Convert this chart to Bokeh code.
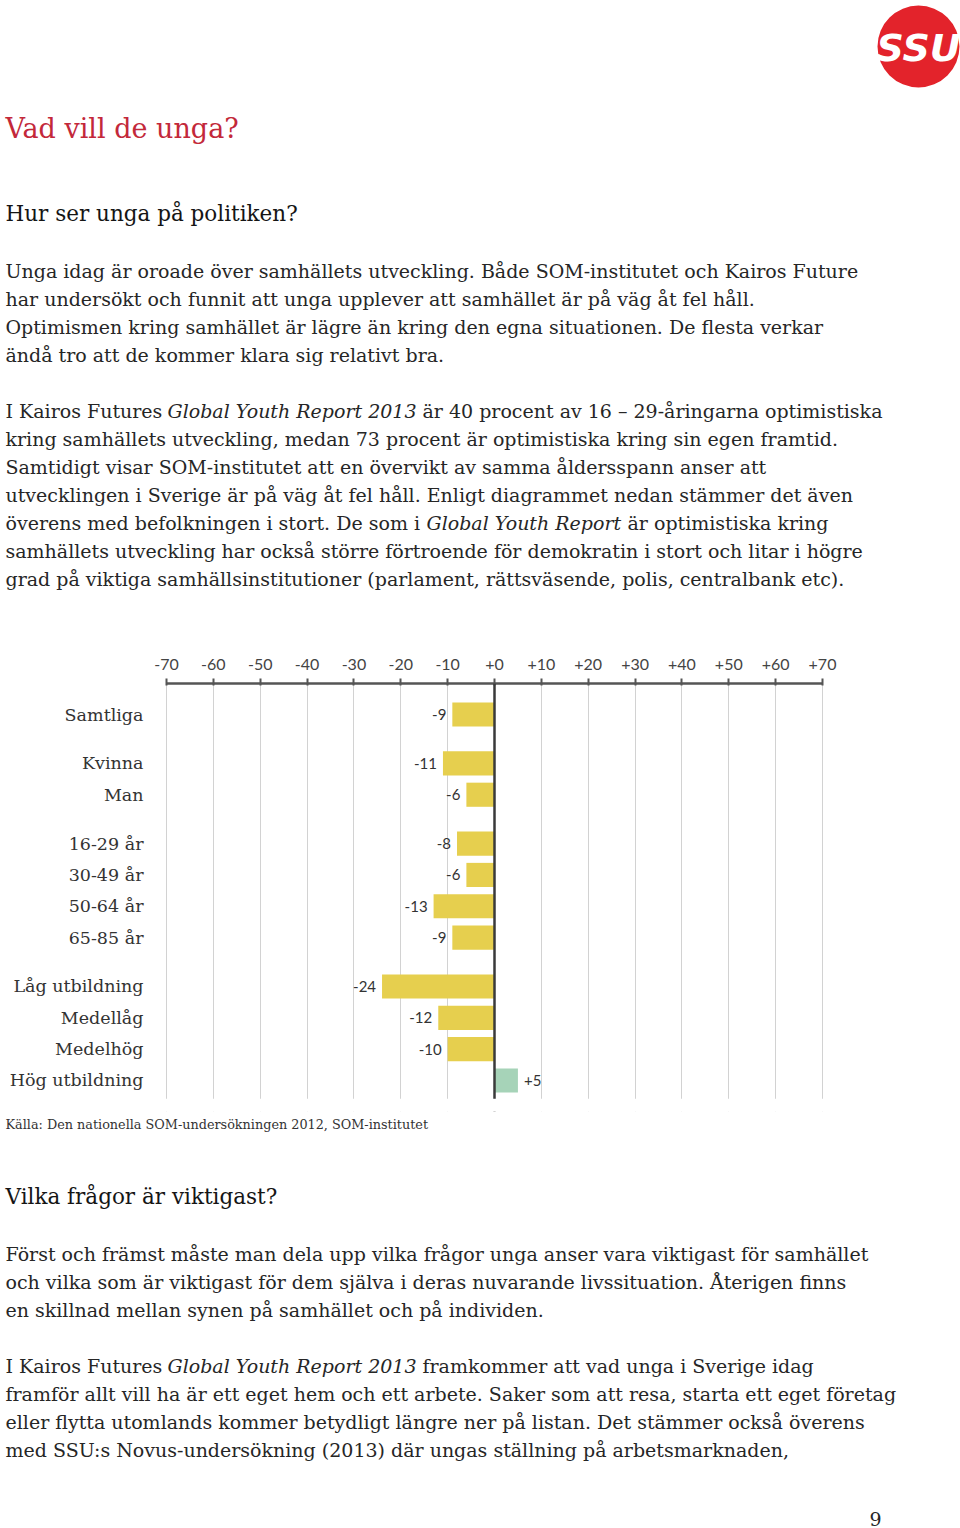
from bokeh.plotting import figure
from bokeh.models import (Range1d, FactorRange, FixedTicker, CustomJSTickFormatter, Span,
                          ColumnDataSource, BoxAnnotation)
from bokeh.layouts import column
from bokeh.embed import file_html
from bokeh.resources import INLINE
from bokeh.core.properties import value

# ---------------- chart data ----------------
categories = ["Samtliga", "Kvinna", "Man", "16-29 år", "30-49 år", "50-64 år", "65-85 år",
              "Låg utbildning", "Medellåg", "Medelhög", "Hög utbildning"]
groups = ["Alla", "Kön", "Kön", "Ålder", "Ålder", "Ålder", "Ålder",
          "Utbildning", "Utbildning", "Utbildning", "Utbildning"]
values = [-9, -11, -6, -8, -6, -13, -9, -24, -12, -10, 5]
x_ticks = [-70, -60, -50, -40, -30, -20, -10, 0, 10, 20, 30, 40, 50, 60, 70]
source_note = "Källa: Den nationella SOM-undersökningen 2012, SOM-institutet"

# ---------------- page texts ----------------
title = "Vad vill de unga?"
heading1 = "Hur ser unga på politiken?"
para1 = [
    "Unga idag är oroade över samhällets utveckling. Både SOM-institutet och Kairos Future",
    "har undersökt och funnit att unga upplever att samhället är på väg åt fel håll.",
    "Optimismen kring samhället är lägre än kring den egna situationen. De flesta verkar",
    "ändå tro att de kommer klara sig relativt bra.",
]
para2 = [
    [("I Kairos Futures ", "normal"), ("Global Youth Report 2013", "italic"),
     ("är 40 procent av 16 – 29-åringarna optimistiska", "normal")],
    [("kring samhällets utveckling, medan 73 procent är optimistiska kring sin egen framtid.", "normal")],
    [("Samtidigt visar SOM-institutet att en övervikt av samma åldersspann anser att", "normal")],
    [("utvecklingen i Sverige är på väg åt fel håll. Enligt diagrammet nedan stämmer det även", "normal")],
    [("överens med befolkningen i stort. De som i ", "normal"), ("Global Youth Report", "italic"),
     ("är optimistiska kring", "normal")],
    [("samhällets utveckling har också större förtroende för demokratin i stort och litar i högre", "normal")],
    [("grad på viktiga samhällsinstitutioner (parlament, rättsväsende, polis, centralbank etc).", "normal")],
]
para2_seg_x = [[5, 167, 422], [5], [5], [5], [5, 426, 627], [5], [5]]
heading2 = "Vilka frågor är viktigast?"
para3 = [
    "Först och främst måste man dela upp vilka frågor unga anser vara viktigast för samhället",
    "och vilka som är viktigast för dem själva i deras nuvarande livssituation. Återigen finns",
    "en skillnad mellan synen på samhället och på individen.",
]
para4 = [
    [("I Kairos Futures ", "normal"), ("Global Youth Report 2013", "italic"),
     ("framkommer att vad unga i Sverige idag", "normal")],
    [("framför allt vill ha är ett eget hem och ett arbete. Saker som att resa, starta ett eget företag", "normal")],
    [("eller flytta utomlands kommer betydligt längre ner på listan. Det stämmer också överens", "normal")],
    [("med SSU:s Novus-undersökning (2013) där ungas ställning på arbetsmarknaden,", "normal")],
]
para4_seg_x = [[5, 167, 422], [5], [5], [5]]

SERIF = "DejaVu Serif"
SANS = "Lato"
W = 960
BODY = 19
TXT = "#262626"


def text_fig(h, y_top):
    p = figure(width=W, height=h, x_range=Range1d(0, W), y_range=Range1d(y_top + h, y_top),
               x_axis_location=None, y_axis_location=None, output_backend="svg",
               toolbar_location=None, min_border=0)
    p.grid.visible = False
    p.outline_line_color = None
    p.background_fill_color = "white"
    p.border_fill_color = "white"
    return p


def put(p, x, y, t, size, color=TXT, style="normal", font=SERIF, align="left"):
    p.text(x=[x], y=[y], text=[t], text_font=value(font), text_font_size=f"{size}px",
           text_color=color, text_font_style=style, text_baseline="middle", text_align=align)


# ---------------- top part ----------------
top = text_fig(640, 0)
top.circle(x=[918], y=[46], radius=41, fill_color="#e3232b", line_color=None)
put(top, 918, 47, "SSU", 38, color="white", style="bold italic", font="DejaVu Sans", align="center")
put(top, 5, 128, title, 27, color="#c3283a")
put(top, 5, 213, heading1, 21.5, color="#151515")
for i, line in enumerate(para1):
    put(top, 5, 270 + 28 * i, line, BODY)
for i, segs in enumerate(para2):
    for (t, st), x in zip(segs, para2_seg_x[i]):
        put(top, x, 410 + 28 * i, t, BODY, style=st)

# ---------------- chart ----------------
# plot area spans page pixels 166..822 for -70..+70; the range is widened so labels fit
PX_L, PX_R = 166, 822
ppu = (PX_R - PX_L) / (x_ticks[-1] - x_ticks[0])
x_start = x_ticks[0] - PX_L / ppu
x_end = x_ticks[-1] + (W - PX_R) / ppu

factors = [(g, c) for g, c in zip(groups, categories)][::-1]
vals_rev = values[::-1]

y_range = FactorRange(factors=factors, group_padding=0.56, factor_padding=0.0,
                      range_padding=0.49, range_padding_units="absolute")
chart = figure(width=W, height=472, x_range=Range1d(x_start, x_end), y_range=y_range,
               x_axis_location="above", y_axis_location=None, output_backend="svg",
               toolbar_location=None, min_border_left=0, min_border_right=0,
               min_border_top=43, min_border_bottom=1)
chart.outline_line_color = None
chart.background_fill_color = "white"
chart.border_fill_color = "white"

ticker = FixedTicker(ticks=x_ticks)
xa = chart.xaxis[0]
xa.ticker = ticker
xa.bounds = (x_ticks[0], x_ticks[-1])
xa.formatter = CustomJSTickFormatter(code="return (tick >= 0 ? '+' : '') + tick.toFixed(0);")
xa.axis_line_color = "#555555"
xa.axis_line_width = 2.5
xa.major_tick_line_color = "#555555"
xa.major_tick_line_width = 2
xa.major_tick_out = 5
xa.major_tick_in = 2
xa.minor_tick_line_color = None
xa.major_label_text_font = SANS
xa.major_label_text_font_size = "16px"
xa.major_label_text_color = "#444444"
xa.major_label_standoff = 9

chart.xgrid.ticker = ticker
chart.xgrid.grid_line_color = "#d2d2d2"
chart.xgrid.grid_line_width = 1
chart.ygrid.grid_line_color = None

# category labels, right-aligned left of the plot area
chart.text(x=[x_ticks[0]] * len(factors), y=factors, text=[c for g, c in factors],
           x_offset=-23, text_align="right", text_baseline="middle", text_font=value(SERIF),
           text_font_size="17.5px", text_color="#333333")

colors = ["#a6d3b8" if v > 0 else "#e6cf4e" for v in vals_rev]
src = ColumnDataSource(dict(y=factors, v=vals_rev, c=colors))
chart.hbar(y="y", left=0, right="v", height=0.77, fill_color="c", line_color=None, source=src)

neg = [(f, v) for f, v in zip(factors, vals_rev) if v < 0]
pos = [(f, v) for f, v in zip(factors, vals_rev) if v > 0]
chart.text(x=[v for f, v in neg], y=[f for f, v in neg], text=[str(v) for f, v in neg],
           x_offset=-6, text_align="right", text_baseline="middle", text_font=value(SANS),
           text_font_size="15px", text_color="#333333")
chart.text(x=[v for f, v in pos], y=[f for f, v in pos], text=["+" + str(v) for f, v in pos],
           x_offset=6, text_align="left", text_baseline="middle", text_font=value(SANS),
           text_font_size="15px", text_color="#333333")

chart.add_layout(Span(location=0, dimension="height", line_color="#3a3a3a", line_width=2.5))
# grid ends a little below the last category (bottom factor centre is at synthetic 0.5)
chart.add_layout(BoxAnnotation(top=0.5 - 0.58, fill_color="white", fill_alpha=1.0,
                               line_color=None))

# ---------------- bottom part ----------------
bot = text_fig(416, 1112)
put(bot, 5, 1124, source_note, 12.8, color="#333333")
put(bot, 5, 1196, heading2, 21.5, color="#151515")
for i, line in enumerate(para3):
    put(bot, 5, 1253 + 28 * i, line, BODY)
for i, segs in enumerate(para4):
    for (t, st), x in zip(segs, para4_seg_x[i]):
        put(bot, x, 1365 + 28 * i, t, BODY, style=st)
put(bot, 875, 1518, "9", 19, align="center")

page = column(top, chart, bot, spacing=0)
open("out.html", "w").write(file_html(page, INLINE))
